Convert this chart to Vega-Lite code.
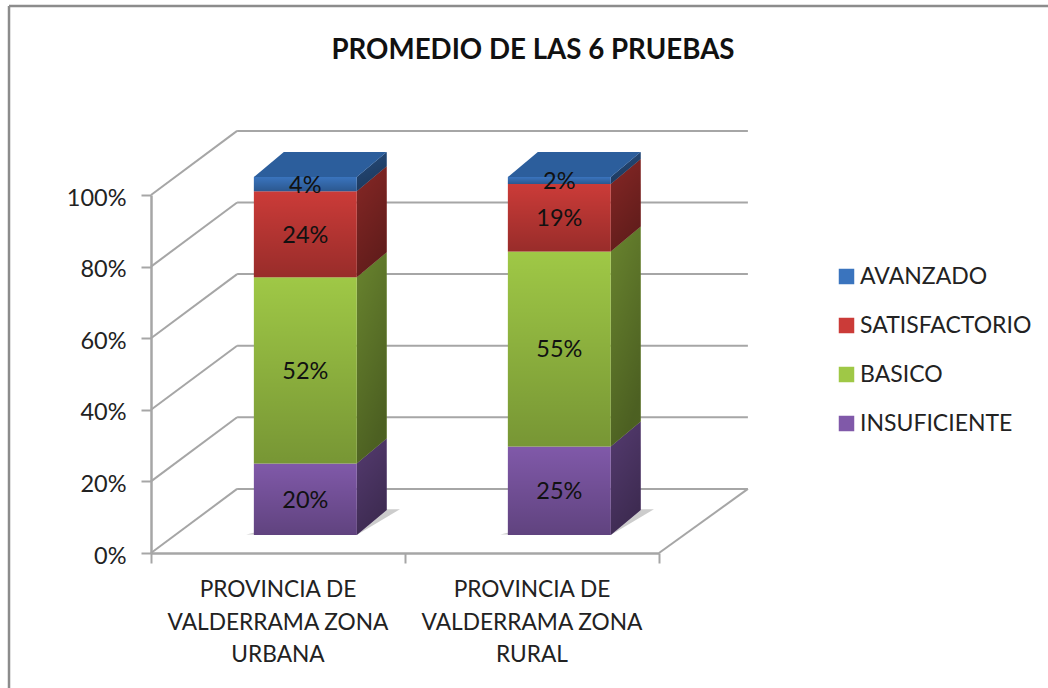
{
"$schema":"https://vega.github.io/schema/vega-lite/v6.json",
"width":508,"height":358,
"autosize":{"type":"none"},
"padding":{"left":151,"top":195,"right":389,"bottom":135},
"background":"#ffffff",
"config":{"view":{"stroke":null},"font":"Lato","numberFormat":".0%",
 "axisX":{"tickCount":2,"labels":false,"grid":false,"domainColor":"#a6a6a6","domainWidth":2.5,"tickColor":"#a6a6a6","tickWidth":2,"tickSize":10},
 "axisY":{"tickCount":5,"grid":false,"domainColor":"#a6a6a6","domainWidth":2.5,"tickColor":"#a6a6a6","tickWidth":2,"tickSize":10,"labelFont":"Lato","labelFontSize":23.5,"labelColor":"#222222","labelPadding":15,"labelOffset":3}},
"title":{"text":"PROMEDIO DE LAS 6 PRUEBAS","anchor":"middle","dx":128,"offset":-60,"fontSize":27.7,"fontWeight":"bold","font":"Lato","color":"#111111"},
"datasets":{
"bars":[
{"zona":"PROVINCIA DE VALDERRAMA ZONA URBANA","nivel":"INSUFICIENTE","pct":20},
{"zona":"PROVINCIA DE VALDERRAMA ZONA URBANA","nivel":"BASICO","pct":52},
{"zona":"PROVINCIA DE VALDERRAMA ZONA URBANA","nivel":"SATISFACTORIO","pct":24},
{"zona":"PROVINCIA DE VALDERRAMA ZONA URBANA","nivel":"AVANZADO","pct":4},
{"zona":"PROVINCIA DE VALDERRAMA ZONA RURAL","nivel":"INSUFICIENTE","pct":25},
{"zona":"PROVINCIA DE VALDERRAMA ZONA RURAL","nivel":"BASICO","pct":55},
{"zona":"PROVINCIA DE VALDERRAMA ZONA RURAL","nivel":"SATISFACTORIO","pct":19},
{"zona":"PROVINCIA DE VALDERRAMA ZONA RURAL","nivel":"AVANZADO","pct":2}
],
"ticks":[{"t":0},{"t":0.2},{"t":0.4},{"t":0.6},{"t":0.8},{"t":1}],
"cats":[{"c":0.5,"label":"PROVINCIA DE\nVALDERRAMA ZONA\nURBANA"},{"c":1.5,"label":"PROVINCIA DE\nVALDERRAMA ZONA\nRURAL"}]
},
"data":{"name":"bars"},
"layer":[
{"data":{"values":[{"a":1}]},"mark":{"type":"rule","color":"#8c8c8c","strokeWidth":2.5},
 "encoding":{"x":{"datum":-0.559,"type":"quantitative","title":null,"scale":{"domain":[0,2],"nice":false,"zero":false}},"x2":{"datum":3.54},"y":{"datum":1.528,"type":"quantitative","title":null,"scale":{"domain":[0,1],"nice":false}}}},
{"data":{"values":[{"a":1}]},"mark":{"type":"rule","color":"#8c8c8c","strokeWidth":2.5},
 "encoding":{"x":{"datum":-0.559,"type":"quantitative","title":null},"y":{"datum":1.528,"type":"quantitative","title":null},"y2":{"datum":-0.38}}},
{"data":{"name":"ticks"},"mark":{"type":"rule","color":"#a6a6a6","strokeWidth":2},
 "transform":[{"calculate":"datum.t+0.179","as":"back"}],
 "encoding":{"x":{"datum":0.339,"type":"quantitative","title":null},"x2":{"datum":2.35},"y":{"field":"back","type":"quantitative","title":null}}},
{"data":{"name":"ticks"},"mark":{"type":"rule","color":"#a6a6a6","strokeWidth":2},
 "transform":[{"calculate":"datum.t+0.179","as":"back"}],
 "encoding":{"x":{"datum":0,"type":"quantitative","title":null},"x2":{"datum":0.339},"y":{"field":"t","type":"quantitative","title":null},"y2":{"field":"back"}}},
{"data":{"values":[{"t":0}]},"mark":{"type":"rule","color":"#a6a6a6","strokeWidth":2},
 "transform":[{"calculate":"datum.t+0.179","as":"back"}],
 "encoding":{"x":{"datum":2,"type":"quantitative","title":null},"x2":{"datum":2.35},"y":{"field":"t","type":"quantitative","title":null},"y2":{"field":"back"}}},
{"mark":{"type":"area","orient":"vertical","color":"#000000","opacity":0.2},
 "transform":[{"filter":"datum.nivel==='AVANZADO'"},
  {"calculate":"indexof(datum.zona,'URBANA')>=0?0:1","as":"i"},
  {"calculate":"[0,1,2]","as":"k"},{"flatten":["k"]},
  {"calculate":"datum.k==0?datum.i+0.375:(datum.k==1?datum.i+0.81:datum.i+0.98)","as":"sx"},
  {"calculate":"datum.k==0?0.052:(datum.k==1?0.05:0.122)","as":"sb"},
  {"calculate":"datum.k==0?0.052:0.122","as":"st"}],
 "encoding":{"x":{"field":"sx","type":"quantitative","title":null},"y":{"field":"st","type":"quantitative","stack":null,"title":null},"y2":{"field":"sb"},"detail":{"field":"zona"}}},
{"mark":{"type":"area","orient":"vertical"},
 "transform":[
  {"calculate":"indexof(['INSUFICIENTE','BASICO','SATISFACTORIO','AVANZADO'],datum.nivel)","as":"ord"},
  {"stack":"pct","groupby":["zona"],"sort":[{"field":"ord","order":"ascending"}],"offset":"normalize","as":["v0","v1"]},
  {"calculate":"indexof(datum.zona,'URBANA')>=0?0:1","as":"i"},
  {"calculate":"[0,1]","as":"d"},{"flatten":["d"]},
  {"calculate":"datum.i+0.81+datum.d*0.118","as":"sx"},
  {"calculate":"datum.v0+0.0503+datum.d*0.0698","as":"s0"},
  {"calculate":"datum.v1+0.0503+datum.d*0.0698","as":"s1"}],
 "encoding":{"x":{"field":"sx","type":"quantitative","title":null},"y":{"field":"s0","type":"quantitative","stack":null,"title":null},"y2":{"field":"s1"},"detail":{"field":"zona"},
  "color":{"field":"nivel","type":"nominal","title":null,"scale":{"domain":["AVANZADO","SATISFACTORIO","BASICO","INSUFICIENTE"],"range":["#3a74be","#cb3b38","#9fc846","#8059a9"]},"legend":{"orient":"none","legendX":684,"legendY":70,"title":null,"symbolType":"square","symbolSize":240,"symbolStrokeWidth":0,"labelFont":"Lato","labelFontSize":23,"labelColor":"#222222","labelOffset":2,"rowPadding":25,"labelLimit":300}}}},
{"mark":{"type":"area","orient":"vertical","color":{"gradient":"linear","x1":0,"y1":0,"x2":0.4,"y2":1,"stops":[{"offset":0,"color":"rgba(0,0,0,0.34)"},{"offset":1,"color":"rgba(0,0,0,0.52)"}]}},
 "transform":[
  {"calculate":"indexof(['INSUFICIENTE','BASICO','SATISFACTORIO','AVANZADO'],datum.nivel)","as":"ord"},
  {"stack":"pct","groupby":["zona"],"sort":[{"field":"ord","order":"ascending"}],"offset":"normalize","as":["v0","v1"]},
  {"calculate":"indexof(datum.zona,'URBANA')>=0?0:1","as":"i"},
  {"calculate":"[0,1]","as":"d"},{"flatten":["d"]},
  {"calculate":"datum.i+0.81+datum.d*0.118","as":"sx"},
  {"calculate":"datum.v0+0.0503+datum.d*0.0698","as":"s0"},
  {"calculate":"datum.v1+0.0503+datum.d*0.0698","as":"s1"}],
 "encoding":{"x":{"field":"sx","type":"quantitative","title":null},"y":{"field":"s0","type":"quantitative","stack":null,"title":null},"y2":{"field":"s1"},"detail":[{"field":"zona"},{"field":"nivel"}]}},
{"mark":{"type":"area","orient":"vertical","color":"#2c5e9c"},
 "transform":[{"filter":"datum.nivel==='AVANZADO'"},
  {"calculate":"indexof(datum.zona,'URBANA')>=0?0:1","as":"i"},
  {"calculate":"[0,1,2,3]","as":"k"},{"flatten":["k"]},
  {"calculate":"datum.k==0?datum.i+0.405:(datum.k==1?datum.i+0.523:(datum.k==2?datum.i+0.81:datum.i+0.928))","as":"tx"},
  {"calculate":"datum.k==0?1.0503:1.1201","as":"tt"},
  {"calculate":"datum.k==3?1.1201:1.0503","as":"tb"}],
 "encoding":{"x":{"field":"tx","type":"quantitative","title":null},"y":{"field":"tt","type":"quantitative","stack":null,"title":null},"y2":{"field":"tb"},"detail":{"field":"zona"}}},
{"mark":{"type":"rect"},
 "transform":[
  {"calculate":"indexof(['INSUFICIENTE','BASICO','SATISFACTORIO','AVANZADO'],datum.nivel)","as":"ord"},
  {"stack":"pct","groupby":["zona"],"sort":[{"field":"ord","order":"ascending"}],"offset":"normalize","as":["v0","v1"]},
  {"calculate":"indexof(datum.zona,'URBANA')>=0?0:1","as":"i"},
  {"calculate":"datum.i+0.405","as":"xl"},{"calculate":"datum.i+0.81","as":"xr"},
  {"calculate":"datum.v0+0.0503","as":"y0s"},{"calculate":"datum.v1+0.0503","as":"y1s"}],
 "encoding":{"x":{"field":"xl","type":"quantitative","title":null},"x2":{"field":"xr"},"y":{"field":"y0s","type":"quantitative","title":null},"y2":{"field":"y1s"},
  "color":{"field":"nivel","type":"nominal","title":null,"scale":{"domain":["AVANZADO","SATISFACTORIO","BASICO","INSUFICIENTE"],"range":["#3a74be","#cb3b38","#9fc846","#8059a9"]},"legend":{"orient":"none","legendX":684,"legendY":70,"title":null,"symbolType":"square","symbolSize":240,"symbolStrokeWidth":0,"labelFont":"Lato","labelFontSize":23,"labelColor":"#222222","labelOffset":2,"rowPadding":25,"labelLimit":300}}}},
{"mark":{"type":"rect","color":{"gradient":"linear","x1":0,"y1":0,"x2":0,"y2":1,"stops":[{"offset":0,"color":"rgba(0,0,0,0)"},{"offset":1,"color":"rgba(0,0,0,0.25)"}]}},
 "transform":[
  {"calculate":"indexof(['INSUFICIENTE','BASICO','SATISFACTORIO','AVANZADO'],datum.nivel)","as":"ord"},
  {"stack":"pct","groupby":["zona"],"sort":[{"field":"ord","order":"ascending"}],"offset":"normalize","as":["v0","v1"]},
  {"calculate":"indexof(datum.zona,'URBANA')>=0?0:1","as":"i"},
  {"calculate":"datum.i+0.405","as":"xl"},{"calculate":"datum.i+0.81","as":"xr"},
  {"calculate":"datum.v0+0.0503","as":"y0s"},{"calculate":"datum.v1+0.0503","as":"y1s"}],
 "encoding":{"x":{"field":"xl","type":"quantitative","title":null},"x2":{"field":"xr"},"y":{"field":"y0s","type":"quantitative","title":null},"y2":{"field":"y1s"}}},
{"mark":{"type":"text","font":"Lato","fontSize":23.5,"color":"#111111","baseline":"middle","dy":1.5},
 "transform":[
  {"calculate":"indexof(['INSUFICIENTE','BASICO','SATISFACTORIO','AVANZADO'],datum.nivel)","as":"ord"},
  {"stack":"pct","groupby":["zona"],"sort":[{"field":"ord","order":"ascending"}],"offset":"normalize","as":["v0","v1"]},
  {"calculate":"indexof(datum.zona,'URBANA')>=0?0:1","as":"i"},
  {"calculate":"datum.i+0.6075","as":"xc"},
  {"calculate":"(datum.v0+datum.v1)/2+0.0503","as":"yc"},
  {"calculate":"datum.pct+'%'","as":"lab"}],
 "encoding":{"x":{"field":"xc","type":"quantitative","title":null},"y":{"field":"yc","type":"quantitative","title":null},"text":{"field":"lab"}}},
{"data":{"name":"cats"},"mark":{"type":"text","font":"Lato","fontSize":22.7,"color":"#222222","lineBreak":"\n","lineHeight":32.5,"baseline":"top","dy":26},
 "encoding":{"x":{"field":"c","type":"quantitative","title":null},"y":{"datum":0,"type":"quantitative","title":null},"text":{"field":"label"}}}
]
}
